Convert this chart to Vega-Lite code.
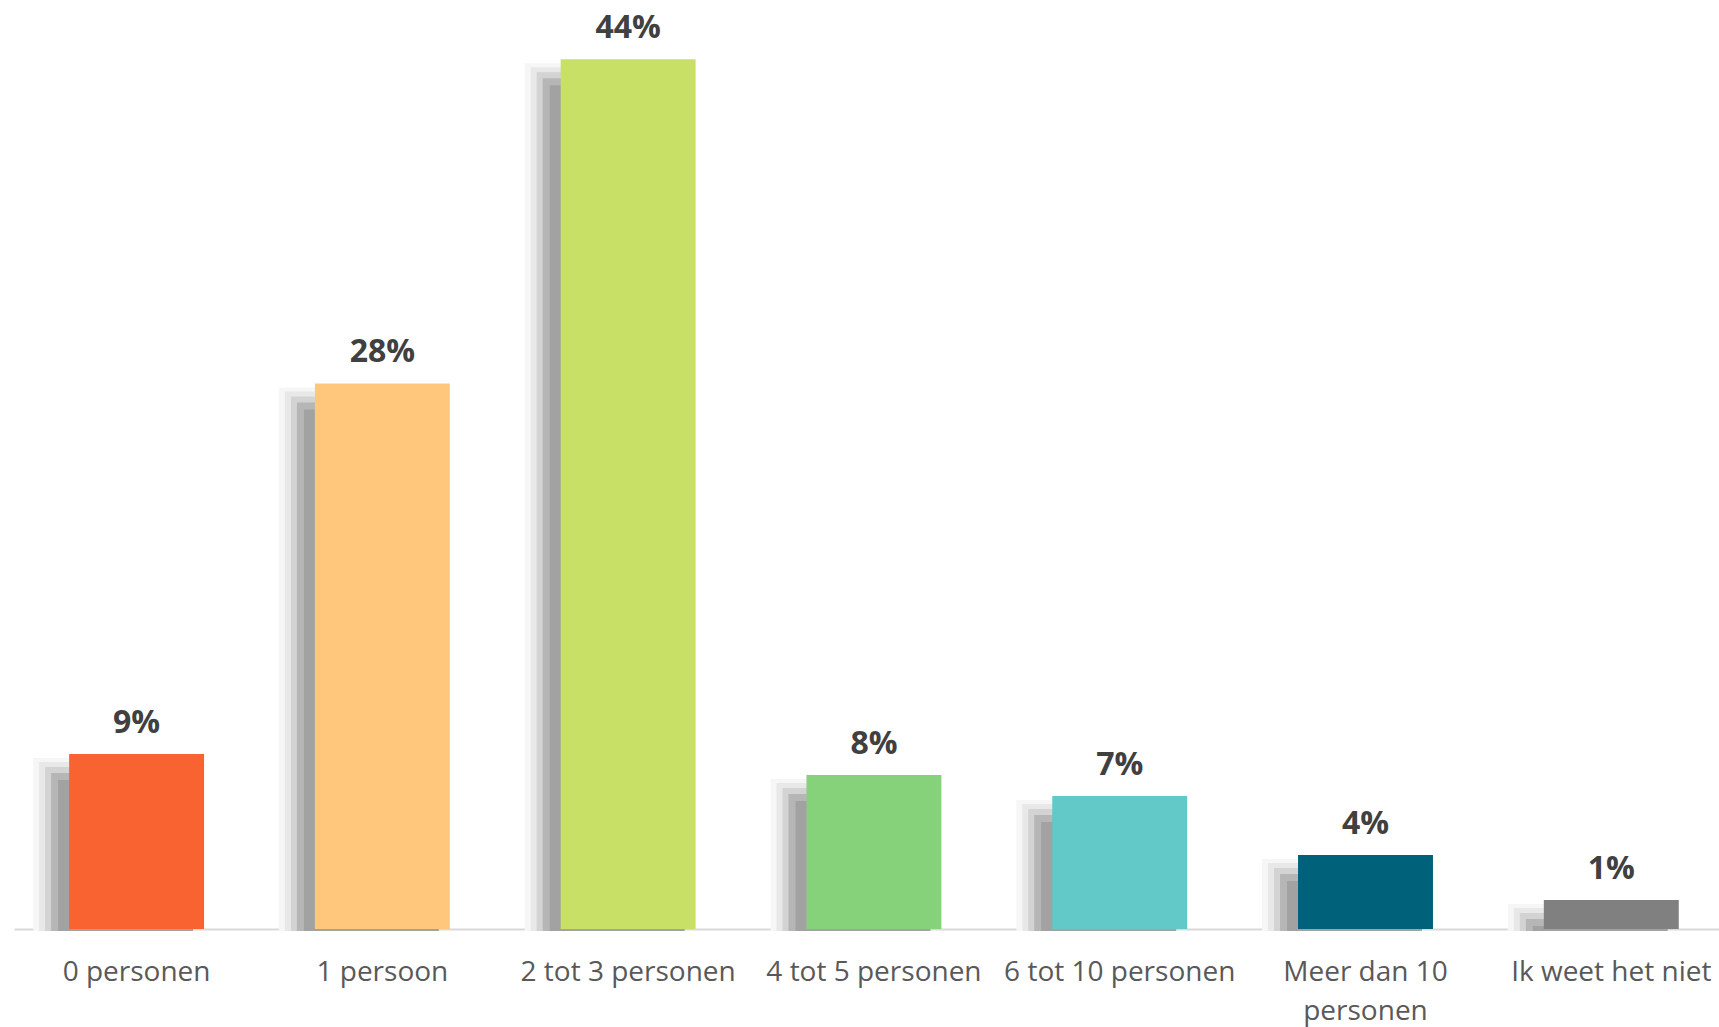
{
  "$schema": "https://vega.github.io/schema/vega-lite/v6.json",
  "autosize": "none",
  "width": 1705,
  "height": 929,
  "padding": {"left": 14, "top": 0, "right": 0, "bottom": 98},
  "background": "white",
  "config": {"view": {"stroke": null}},
  "data": {
    "values": [
      {"groep": "0 personen", "aandeel": 0.0885},
      {"groep": "1 persoon", "aandeel": 0.276},
      {"groep": "2 tot 3 personen", "aandeel": 0.44},
      {"groep": "4 tot 5 personen", "aandeel": 0.0779},
      {"groep": "6 tot 10 personen", "aandeel": 0.0673},
      {"groep": "Meer dan 10 personen", "aandeel": 0.0374},
      {"groep": "Ik weet het niet", "aandeel": 0.0147}
    ]
  },
  "encoding": {
    "x": {
      "field": "groep",
      "type": "nominal",
      "sort": null,
      "scale": {"paddingInner": 0.451, "paddingOuter": 0.194, "align": 0.578},
      "axis": {
        "title": null,
        "domainColor": "#d9d9d9",
        "domainWidth": 2,
        "ticks": false,
        "labelAngle": 0,
        "labelFont": "Open Sans",
        "labelFontSize": 28,
        "labelColor": "#595959",
        "labelPadding": 43,
        "labelLimit": 0,
        "labelLineHeight": 39,
        "labelBaseline": "middle",
        "labelExpr": "datum.value == 'Meer dan 10 personen' ? ['Meer dan 10', 'personen'] : datum.value"
      }
    },
    "y": {
      "field": "aandeel",
      "type": "quantitative",
      "scale": {"domain": [0, 0.47], "nice": false},
      "axis": null
    }
  },
  "layer": [
    {"mark": {"type": "bar", "color": "#f6f6f6", "xOffset": -36, "yOffset": 4, "y2Offset": 2}, "encoding": {"y2": {"datum": 0}}},
    {"mark": {"type": "bar", "color": "#e8e8e8", "xOffset": -30, "yOffset": 8, "y2Offset": 2}, "encoding": {"y2": {"datum": 0}}},
    {"mark": {"type": "bar", "color": "#d3d3d3", "xOffset": -24, "yOffset": 13, "y2Offset": 2}, "encoding": {"y2": {"datum": 0}}},
    {"mark": {"type": "bar", "color": "#b6b6b6", "xOffset": -18, "yOffset": 19, "y2Offset": 2}, "encoding": {"y2": {"datum": 0}}},
    {"mark": {"type": "bar", "color": "#a2a2a2", "xOffset": -11, "yOffset": 26, "y2Offset": 2}, "encoding": {"y2": {"datum": 0}}},
    {
      "mark": {"type": "bar"},
      "encoding": {
        "color": {
          "field": "groep",
          "type": "nominal",
          "sort": null,
          "legend": null,
          "scale": {
            "domain": ["0 personen", "1 persoon", "2 tot 3 personen", "4 tot 5 personen", "6 tot 10 personen", "Meer dan 10 personen", "Ik weet het niet"],
            "range": ["#f96332", "#fec77c", "#c9e066", "#86d27a", "#62c8c8", "#00627a", "#808080"]
          }
        }
      }
    },
    {
      "mark": {"type": "text", "font": "Open Sans", "fontWeight": "bold", "fontSize": 32, "color": "#404040", "baseline": "alphabetic", "dy": -21},
      "encoding": {
        "text": {"field": "aandeel", "type": "quantitative", "format": ".0%"}
      }
    }
  ]
}
